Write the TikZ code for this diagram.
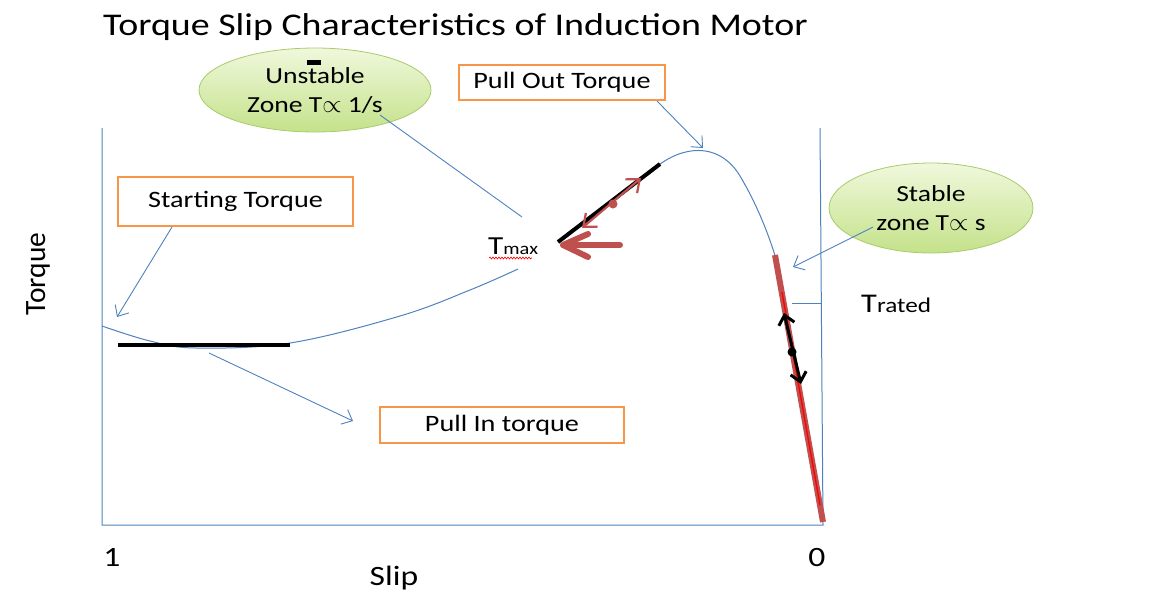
\documentclass[tikz,border=0pt]{standalone}
\usepackage{fontspec}
\setmainfont{Carlito}[FakeStretch=1.2]
\newfontfamily\plainfont{Carlito}
\usetikzlibrary{arrows.meta,shapes.geometric,decorations.pathmorphing}
\definecolor{axisblue}{HTML}{4F81BD}
\definecolor{boxorange}{HTML}{F79646}
\definecolor{zonegreenA}{HTML}{F0F8DC}
\definecolor{zonegreenB}{HTML}{C4E28A}
\definecolor{zoneedge}{HTML}{A8CB6C}
\definecolor{mred}{HTML}{C0504D}
\begin{document}
\begin{tikzpicture}[x=1pt,y=-1pt,
  axisline/.style={draw=axisblue,line width=1pt},
  curveline/.style={draw=axisblue,line width=1pt},
  leader/.style={draw=axisblue,line width=0.9pt},
  leaderarrow/.style={leader,-{Straight Barb[length=9pt,width=16pt,line width=0.9pt]}},
  labelbox/.style={draw=boxorange,line width=2.6pt,fill=white,inner sep=0pt,font=\fontsize{23.5}{26}\selectfont},
  zone/.style={ellipse,draw=zoneedge,line width=0.8pt,top color=zonegreenA,bottom color=zonegreenB,inner sep=0pt,align=center,font=\fontsize{23}{29}\selectfont},
  txt/.style={inner sep=0pt}
]
\useasboundingbox (0,0) rectangle (1167,598);

% title
\node[txt,anchor=base west,font=\fontsize{31.6}{36}\selectfont] (title) at (103,35) {Torque Slip Characteristics of Induction Motor};

% axes
\coordinate (lt) at (102,128);
\coordinate (lb) at (102,525);
\coordinate (rt) at (820,128);
\coordinate (rb) at (823,525);
\coordinate (rated) at (820.5,303);
\coordinate (ratedl) at (792,303);
\draw[axisline] (lt) -- (lb) -- (rb) -- (rt);
\draw[axisline] (ratedl) -- (rated);

% axis labels
\node[txt,rotate=90,font=\plainfont\fontsize{29.5}{34}\selectfont] (torque) at (38,274) {Torque};
\node[txt,anchor=base,font=\fontsize{28}{32}\selectfont] (one) at (112,566) {1};
\node[txt,anchor=base,font=\fontsize{28}{32}\selectfont] (zero) at (817,566) {0};
\node[txt,anchor=base,font=\fontsize{28}{32}\selectfont] (slip) at (394,585) {Slip};
\node[txt,anchor=base west] (trated) at (861,312) {\fontsize{27}{30}\selectfont T\fontsize{21}{30}\selectfont rated};

% curve
\coordinate (cA) at (102,326);
\coordinate (cB) at (518,269);
\coordinate (cC) at (558,242);
\coordinate (cD) at (660,164);
\coordinate (cE) at (740,176);
\coordinate (cF) at (777,262);
\draw[curveline] plot[smooth,tension=0.6] coordinates {(102,326) (150,341) (196,348) (290,343) (400,316) (470,290) (518,269)};
\draw[curveline] (cC) -- (cD) .. controls (690,143) and (722,146) .. (cE) .. controls (752,196) and (766,225) .. (cF);

% starting / pull-in black bar
\coordinate (barL) at (118,345);
\coordinate (barR) at (290,345);
\draw[black,line width=3.6pt] (barL) -- (barR);

% black bar near Tmax
\draw[black,line width=4pt] (cC) -- (cD);

% red double arrow on that bar
\coordinate (raA) at (582,228);
\coordinate (raB) at (641,178);
\draw[mred,line width=2.2pt,{Straight Barb[length=11pt,width=18pt]}-{Straight Barb[length=11pt,width=18pt]}] (raA) -- (raB);
\fill[mred] (613,204) circle (4.5pt);

% big red arrow
\coordinate (baTail) at (620,245);
\coordinate (baTip) at (563,245);
\coordinate (baUp) at (588,234);
\coordinate (baDn) at (588,257);
\draw[mred,line width=6pt,line cap=round,line join=round] (baTail) -- (baTip);
\draw[mred,line width=6pt,line cap=round,line join=round] (baUp) -- (baTip) -- (baDn);

% Tmax label
\node[txt,anchor=base west] (tmax) at (488,254) {\fontsize{26}{28}\selectfont T\fontsize{17}{28}\selectfont max};
\draw[red,line width=0.6pt,decorate,decoration={snake,amplitude=1pt,segment length=3pt}] (489,258) -- (532,258);

% stable red segment
\coordinate (rsA) at (775,255);
\coordinate (rsB) at (823,522);
\draw[mred,line width=6pt] (rsA) -- (rsB);
\coordinate (rrA) at (782,292);
\coordinate (rrB) at (820,505);
\draw[red,line width=1.3pt] (rrA) -- (rrB);

% black double arrow
\coordinate (bdA) at (784,313);
\coordinate (bdB) at (801,384);
\draw[black,line width=3pt,{Straight Barb[length=9pt,width=16pt]}-{Straight Barb[length=9pt,width=16pt]}] (bdA) -- (bdB);
\fill[black] (792,352) circle (4.5pt);

% zone ellipses
\node[zone,minimum width=232pt,minimum height=84pt] (unstable) at (315,90) {Unstable\\Zone T{\plainfont\fontsize{25}{25}\selectfont$\propto$} 1/s};
\node[fill=black,minimum width=14pt,minimum height=5pt,inner sep=0pt] (dash) at (314,62) {};
\node[zone,minimum width=204pt,minimum height=90pt] (stable) at (931,208) {Stable\\zone T{\plainfont\fontsize{25}{25}\selectfont$\propto$} s};

% label boxes
\node[labelbox,minimum width=235pt,minimum height=49pt] (starting) at (235.5,201.5) {Starting Torque};
\node[labelbox,minimum width=206pt,minimum height=35pt] (pullout) at (562,82.5) {Pull Out Torque};
\node[labelbox,minimum width=244pt,minimum height=36pt] (pullin) at (502,425) {Pull In torque};

% leaders
\coordinate (unsEnd) at (522,217);
\coordinate (unsStart) at (380,115);
\draw[leader] (unsStart) -- (unsEnd);
\coordinate (stStart) at (172,227);
\coordinate (stEnd) at (117,317);
\draw[leaderarrow] (stStart) -- (stEnd);
\coordinate (poStart) at (657,101);
\coordinate (poEnd) at (703,148);
\draw[leaderarrow] (poStart) -- (poEnd);
\coordinate (sbStart) at (873,227);
\coordinate (sbEnd) at (793,267);
\draw[leaderarrow] (sbStart) -- (sbEnd);
\coordinate (piStart) at (209,353);
\coordinate (piEnd) at (353,421);
\draw[leaderarrow] (piStart) -- (piEnd);
\end{tikzpicture}
\end{document}
